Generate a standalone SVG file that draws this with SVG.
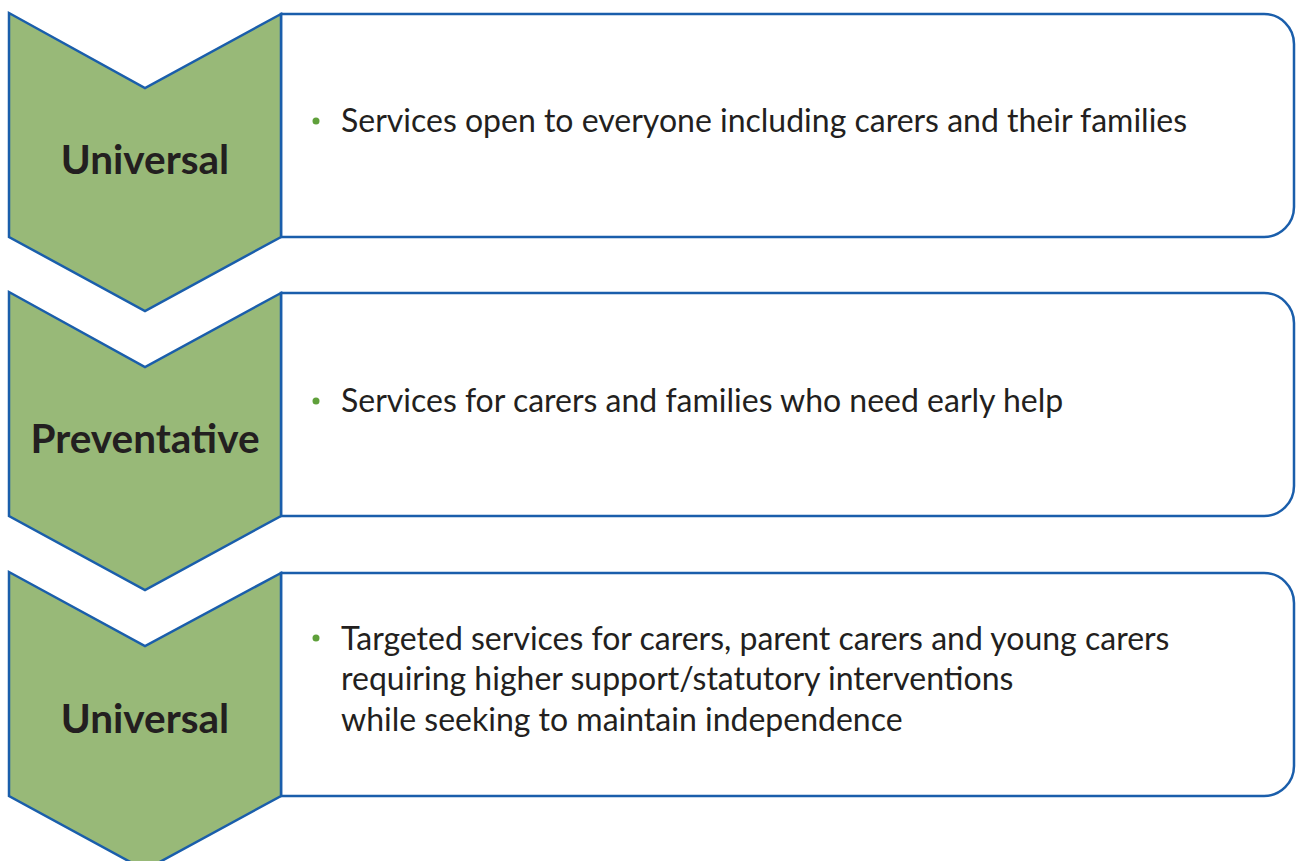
<svg xmlns="http://www.w3.org/2000/svg" width="1297" height="861" viewBox="0 0 1297 861">
<style>
.chev{fill:#98B978;stroke:#1A5EAB;stroke-width:2.5;stroke-linejoin:miter}
.box{fill:#fff;stroke:#1A5EAB;stroke-width:2.5}
.lbl{font-family:Lato,"Open Sans",sans-serif;font-weight:bold;font-size:40.5px;fill:#231F20;text-anchor:middle}
.txt{font-family:Lato,"Open Sans",sans-serif;font-size:32px;fill:#231F20}
.dot{fill:#5FA03A}
</style>
<rect width="1297" height="861" fill="#fff"/>
<g id="row1">
<path class="box" d="M281 14 H1264 A30 30 0 0 1 1294 44 V207 A30 30 0 0 1 1264 237 H281 Z"/>
<path class="chev" d="M9 13 L145 88 L281 14 V237 L145 311 L9 237 Z"/>
<text class="lbl" x="145" y="174">Universal</text>
<circle class="dot" cx="316" cy="121" r="3.5"/>
<text class="txt" x="341" y="132">Services open to everyone including carers and their families</text>
</g>
<g id="row2">
<path class="box" d="M281 293 H1264 A30 30 0 0 1 1294 323 V486 A30 30 0 0 1 1264 516 H281 Z"/>
<path class="chev" d="M9 292 L145 367 L281 293 V516 L145 590 L9 516 Z"/>
<text class="lbl" x="145" y="453">Preventative</text>
<circle class="dot" cx="316" cy="401" r="3.5"/>
<text class="txt" x="341" y="412">Services for carers and families who need early help</text>
</g>
<g id="row3">
<path class="box" d="M281 573 H1264 A30 30 0 0 1 1294 603 V766 A30 30 0 0 1 1264 796 H281 Z"/>
<path class="chev" d="M9 572 L145 646 L281 573 V796 L145 870 L9 796 Z"/>
<text class="lbl" x="145" y="733">Universal</text>
<circle class="dot" cx="316" cy="638" r="3.5"/>
<text class="txt" x="341" y="650">Targeted services for carers, parent carers and young carers</text>
<text class="txt" x="341" y="690">requiring higher support/statutory interventions</text>
<text class="txt" x="341" y="731">while seeking to maintain independence</text>
</g>
<g id="connectors"></g>
</svg>
